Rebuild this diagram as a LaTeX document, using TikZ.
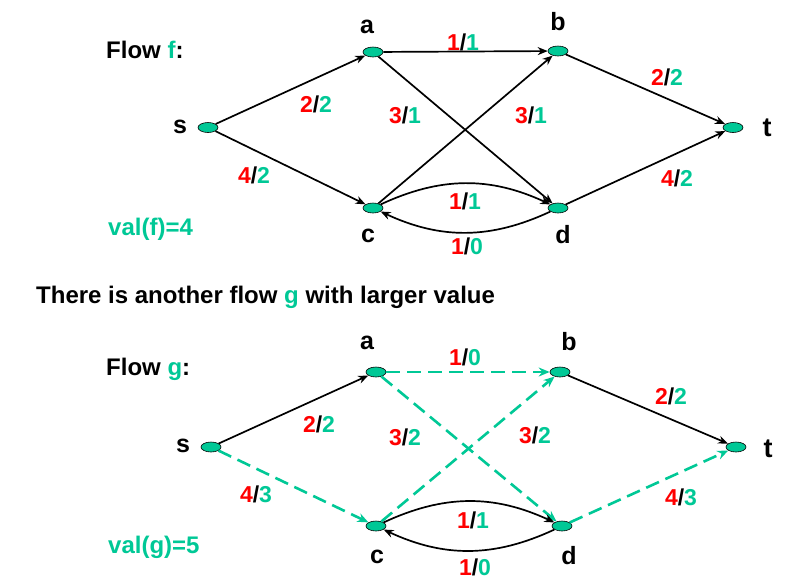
\documentclass[tikz,border=0pt]{standalone}
\usepackage{fontspec}
\setmainfont{Liberation Sans}
\usetikzlibrary{shapes.geometric,arrows.meta}
\definecolor{fgreen}{RGB}{0,200,150}
\definecolor{fred}{RGB}{255,0,0}
\newcommand{\fl}[2]{\textcolor{fred}{#1}/\textcolor{fgreen}{#2}}
\tikzset{
  vert/.style={ellipse,draw=black,line width=0.6pt,fill=fgreen,minimum width=20pt,minimum height=10pt,inner sep=0pt},
  vname/.style={font=\fontsize{25}{28}\selectfont\bfseries,inner sep=0pt},
  tname/.style={font=\fontsize{27}{30}\selectfont\bfseries,inner sep=0pt},
  elbl/.style={font=\fontsize{23}{26}\selectfont\bfseries,inner sep=0pt},
  txt/.style={font=\fontsize{24}{27}\selectfont\bfseries,inner sep=0pt,anchor=west},
  edge/.style={draw=black,line width=1.7pt,-{Stealth[length=10pt,width=8pt]}},
  gedge/.style={draw=fgreen,line width=2.6pt,dash pattern=on 14pt off 7pt,-{Stealth[length=11pt,width=9pt]}},
}
\begin{document}
\begin{tikzpicture}[x=1pt,y=-1pt]
\useasboundingbox (0,0) rectangle (796,579);
% ---------- top graph ----------
\node[vert] (s1) at (208,127.5) {};
\node[vert] (a1) at (373,52) {};
\node[vert] (b1) at (558,51) {};
\node[vert] (t1) at (733,127.5) {};
\node[vert] (c1) at (373,208) {};
\node[vert] (d1) at (558,208) {};
\node[vname] (ls1) at (180,127) {s};
\node[vname] (la1) at (367,27) {a};
\node[vname] (lb1) at (558,22) {b};
\node[tname] (lt1) at (767,128) {t};
\node[vname] (lc1) at (368,236) {c};
\node[vname] (ld1) at (563,235) {d};
\draw[edge] (s1) -- (a1);
\draw[edge] (s1) -- (c1);
\draw[edge] (a1) -- (b1);
\draw[edge] (a1) -- (d1);
\draw[edge] (c1) -- (b1);
\draw[edge] (b1) -- (t1);
\draw[edge] (d1) -- (t1);
\draw[edge] (c1) to[bend left=25] (d1);
\draw[edge] (d1) to[bend left=25] (c1);
\node[elbl] (f1) at (463,42) {\fl{1}{1}};
\node[elbl] (f2) at (316,104) {\fl{2}{2}};
\node[elbl] (f3) at (405,115) {\fl{3}{1}};
\node[elbl] (f4) at (531,115) {\fl{3}{1}};
\node[elbl] (f5) at (667,77) {\fl{2}{2}};
\node[elbl] (f6) at (254,175) {\fl{4}{2}};
\node[elbl] (f7) at (677,178) {\fl{4}{2}};
\node[elbl] (f8) at (465,201) {\fl{1}{1}};
\node[elbl] (f9) at (467,246) {\fl{1}{0}};
\node[txt] (flowf) at (106,50) {Flow \textcolor{fgreen}{f}:};
\node[txt,text=fgreen] (valf) at (108,229) {val(f)=4};
\node[txt] (mid) at (36,297) {There is another flow \textcolor{fgreen}{g} with larger value};
% ---------- bottom graph ----------
\node[vert] (s2) at (211,447) {};
\node[vert] (a2) at (376,372) {};
\node[vert] (b2) at (560,372) {};
\node[vert] (t2) at (736,447) {};
\node[vert] (c2) at (376,526) {};
\node[vert] (d2) at (562,526) {};
\node[vname] (ls2) at (183,446) {s};
\node[vname] (la2) at (367,343) {a};
\node[vname] (lb2) at (569,342) {b};
\node[tname] (lt2) at (768,449) {t};
\node[vname] (lc2) at (377,557) {c};
\node[vname] (ld2) at (569,556) {d};
\draw[edge] (s2) -- (a2);
\draw[gedge] (s2) -- (c2);
\draw[gedge] (a2) -- (b2);
\draw[gedge] (a2) -- (d2);
\draw[gedge] (c2) -- (b2);
\draw[edge] (b2) -- (t2);
\draw[gedge] (d2) -- (t2);
\draw[edge] (c2) to[bend left=25] (d2);
\draw[edge] (d2) to[bend left=25] (c2);
\node[elbl] (g1) at (465,357) {\fl{1}{0}};
\node[elbl] (g2) at (319,424) {\fl{2}{2}};
\node[elbl] (g3) at (405,437) {\fl{3}{2}};
\node[elbl] (g4) at (535,435) {\fl{3}{2}};
\node[elbl] (g5) at (671,396) {\fl{2}{2}};
\node[elbl] (g6) at (256,494) {\fl{4}{3}};
\node[elbl] (g7) at (681,497) {\fl{4}{3}};
\node[elbl] (g8) at (473,520) {\fl{1}{1}};
\node[elbl] (g9) at (475,567) {\fl{1}{0}};
\node[txt] (flowg) at (106,369) {Flow \textcolor{fgreen}{g}:};
\node[txt,text=fgreen] (valg) at (108,547) {val(g)=5};
\end{tikzpicture}
\end{document}
